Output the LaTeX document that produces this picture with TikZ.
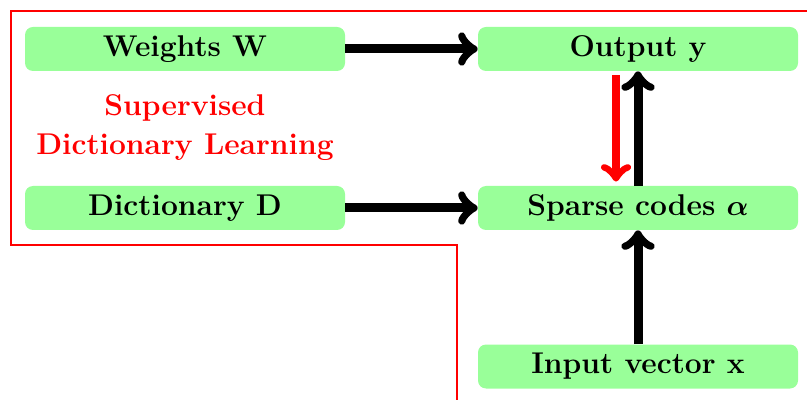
\documentclass[tikz,border=0pt]{standalone}
\usetikzlibrary{positioning}
\definecolor{boxgreen}{RGB}{153,255,153}
\begin{document}
\begin{tikzpicture}[x=0.5pt,y=-0.5pt,
  box/.style={rectangle, rounded corners=4pt, fill=boxgreen, minimum width=160pt, minimum height=22pt, inner sep=0pt, font=\fontsize{15}{18}\selectfont\bfseries\boldmath},
  bigarrow/.style={->, line width=4.5pt, black},
  redarrow/.style={->, line width=4pt, red},
  frame/.style={red, line width=1.4pt}]
\useasboundingbox (0,0) rectangle (807,400);
\clip (0,0) rectangle (807,400);
\node[box] (W) at (185,49) {Weights W};
\node[box] (D) at (185,208) {Dictionary D};
\node[box] (Y) at (638,49) {Output y};
\node[box] (S) at (638,208) {Sparse codes $\alpha$};
\node[box] (X) at (638,366.5) {Input vector x};
\node[red, align=center, font=\fontsize{15}{19.5}\selectfont\bfseries] (L) at (185,128) {Supervised\\Dictionary Learning};
\draw[frame] (457,420) -- (457,245) -- (11,245) -- (11,11) -- (830,11);
\draw[bigarrow] (W.east) -- (Y.west);
\draw[bigarrow] (D.east) -- (S.west);
\draw[bigarrow] (S.north) -- (Y.south);
\draw[bigarrow] (X.north) -- (S.south);
\draw[redarrow, shorten <=2pt, shorten >=2pt] ([xshift=-11pt]Y.south) -- ([xshift=-11pt]S.north);
\end{tikzpicture}
\end{document}
